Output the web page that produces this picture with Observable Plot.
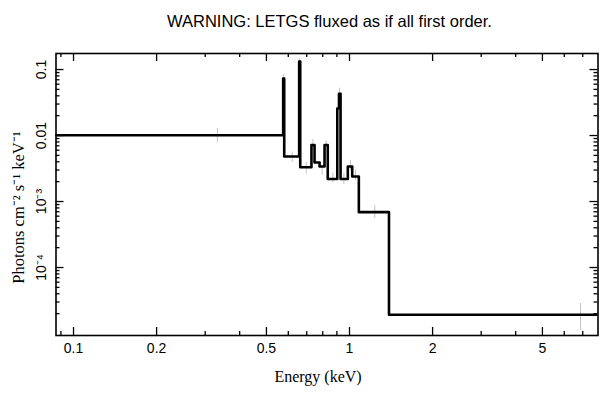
<!DOCTYPE html>
<html>
<head>
<meta charset="utf-8">
<script src="https://cdn.jsdelivr.net/npm/d3@7"></script>
<script src="https://cdn.jsdelivr.net/npm/@observablehq/plot@0.6"></script>
<style>
  html, body { margin: 0; padding: 0; background: white; }
</style>
</head>
<body>
<div id="chart"></div>
<script>
// Bin edges (keV) and fluxed counts (photons cm^-2 s^-1 keV^-1)
const energyEdges = [0.0864, 0.575, 0.580, 0.657, 0.663, 0.728, 0.747, 0.779, 0.812, 0.834, 0.903, 0.916, 0.928, 0.986, 1.023, 1.081, 1.390, 7.95];
const fluxValues  = [0.0101, 0.073, 0.0048, 0.132, 0.0033, 0.0072, 0.0039, 0.0034, 0.0072, 0.0022, 0.0257, 0.0428, 0.0022, 0.0034, 0.0024, 0.00069, 1.92e-5];

// Error bars (faint grey)
const errEnergy = [0.332, 0.577, 0.620, 0.660, 0.697, 0.737, 0.796, 0.823, 0.870, 0.920, 0.954, 1.008, 1.051, 1.235, 6.87];
const errLow    = [0.0078, 0.066, 0.0039, 0.120, 0.0026, 0.0061, 0.0025, 0.0064, 0.0019, 0.036, 0.0018, 0.0030, 0.0021, 0.00055, 1.1e-5];
const errHigh   = [0.0128, 0.084, 0.0056, 0.146, 0.0039, 0.0087, 0.0033, 0.0084, 0.0027, 0.052, 0.0027, 0.0042, 0.0030, 0.00087, 2.85e-5];

// Ticks
const xMajorTicks = [0.1, 0.2, 0.5, 1, 2, 5];
const xTickLabels = ["0.1", "0.2", "0.5", "1", "2", "5"];
const xMinorTicks = [0.09, 0.3, 0.4, 0.6, 0.7, 0.8, 0.9, 3, 4, 6, 7];
const yMajorTicks = [1e-4, 1e-3, 0.01, 0.1];
const yTickLabels = ["10\u207B\u2074", "10\u207B\u00B3", "0.01", "0.1"];
const yMinorTicks = [2e-5, 3e-5, 4e-5, 5e-5, 6e-5, 7e-5, 8e-5, 9e-5,
                     2e-4, 3e-4, 4e-4, 5e-4, 6e-4, 7e-4, 8e-4, 9e-4,
                     2e-3, 3e-3, 4e-3, 5e-3, 6e-3, 7e-3, 8e-3, 9e-3,
                     2e-2, 3e-2, 4e-2, 5e-2, 6e-2, 7e-2, 8e-2, 9e-2];

const titleText = "WARNING: LETGS fluxed as if all first order.";
const xLabel = "Energy (keV)";
const yLabel = "Photons cm\u207B\u00B2 s\u207B\u00B9 keV\u207B\u00B9";

const stepData = energyEdges.map((e, i) => ({E: e, F: fluxValues[Math.min(i, fluxValues.length - 1)]}));
const errData = errEnergy.map((e, i) => ({E: e, lo: errLow[i], hi: errHigh[i]}));

const sans = "'Liberation Sans', Arial, Helvetica, sans-serif";
const serif = "'Liberation Serif', 'Times New Roman', serif";

const W = 609, H = 399;
const mL = 55.5, mR = 11.5, mT = 53, mB = 64;
const frameW = W - mL - mR, frameH = H - mT - mB;
const majorLen = 8, minorLen = 4;
const tickStyle = {stroke: "black", strokeWidth: 1.3};

const chart = Plot.plot({
  width: W,
  height: H,
  marginLeft: mL,
  marginRight: mR,
  marginTop: mT,
  marginBottom: mB,
  style: {fontFamily: sans, fontSize: "14px", color: "black", background: "white"},
  x: {type: "log", domain: [0.0864, 7.95], axis: null},
  y: {type: "log", domain: [9.33e-6, 0.175], axis: null},
  marks: [
    Plot.ruleX(errData, {x: "E", y1: "lo", y2: "hi", stroke: "#c4c4c4", strokeWidth: 1, clip: true}),
    Plot.line(stepData, {x: "E", y: "F", curve: "step-after", stroke: "black", strokeWidth: 2.6, clip: true}),
    // inward ticks on all four sides
    Plot.ruleX(xMajorTicks, {x: d => d, insetTop: frameH - majorLen, ...tickStyle}),
    Plot.ruleX(xMinorTicks, {x: d => d, insetTop: frameH - minorLen, ...tickStyle}),
    Plot.ruleX(xMajorTicks, {x: d => d, insetBottom: frameH - majorLen, ...tickStyle}),
    Plot.ruleX(xMinorTicks, {x: d => d, insetBottom: frameH - minorLen, ...tickStyle}),
    Plot.ruleY(yMajorTicks, {y: d => d, insetRight: frameW - majorLen, ...tickStyle}),
    Plot.ruleY(yMinorTicks, {y: d => d, insetRight: frameW - minorLen, ...tickStyle}),
    Plot.ruleY(yMajorTicks, {y: d => d, insetLeft: frameW - majorLen, ...tickStyle}),
    Plot.ruleY(yMinorTicks, {y: d => d, insetLeft: frameW - minorLen, ...tickStyle}),
    Plot.frame({stroke: "black", strokeWidth: 1.6}),
    // tick labels
    Plot.text(xMajorTicks, {x: d => d, frameAnchor: "bottom", textAnchor: "middle", dy: 17, text: (d, i) => xTickLabels[i], fontSize: 14}),
    Plot.text(yMajorTicks, {y: d => d, frameAnchor: "left", textAnchor: "middle", dx: -14, rotate: -90, text: (d, i) => yTickLabels[i], fontSize: 14}),
    // axis labels and title
    Plot.text([xLabel], {frameAnchor: "bottom", textAnchor: "middle", dx: -9, dy: 46, text: d => d, fontFamily: serif, fontSize: 16}),
    Plot.text([yLabel], {frameAnchor: "left", textAnchor: "middle", dx: -37, dy: 13, rotate: -90, text: d => d, fontFamily: serif, fontSize: 16.5}),
    Plot.text([titleText], {frameAnchor: "top", textAnchor: "middle", dx: 2.5, dy: -38, text: d => d, fontFamily: sans, fontSize: 16.5})
  ]
});
document.getElementById("chart").appendChild(chart);
</script>
</body>
</html>
